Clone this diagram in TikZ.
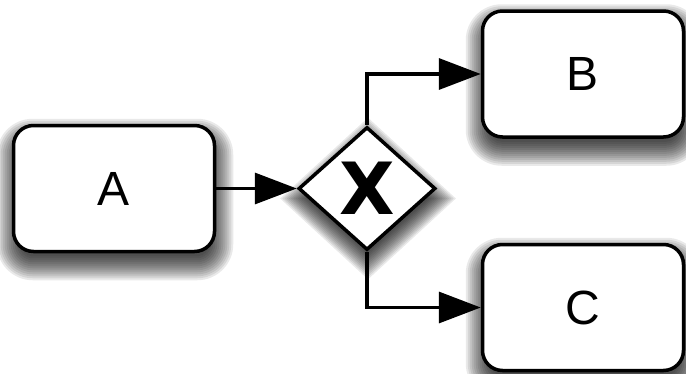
\documentclass[tikz,border=0pt]{standalone}
\usepackage{fontspec}
\setmainfont{Liberation Sans}
\newfontfamily\markfont{DejaVu Sans}
\usetikzlibrary{shapes.geometric,arrows.meta,calc}
\pgfdeclarelayer{background}
\pgfsetlayers{background,main}
\begin{document}
\begin{tikzpicture}[x=1pt,y=-1pt,
  task/.style={draw=black,line width=3.5pt,fill=white,rounded corners=20pt,
      inner sep=0pt,minimum width=201pt,minimum height=126pt,
      font=\fontsize{48}{48}\selectfont},
  gateway/.style={draw=black,line width=3.5pt,fill=white,diamond,
      inner sep=0pt,minimum width=137pt,minimum height=123pt},
  shadowlayer/.style={fill=black,opacity=0.085},
  flow/.style={line width=3.5pt,-{Triangle[length=42pt,width=31pt]}}]
  \useasboundingbox (0,0) rectangle (686,373);
  % tasks and the exclusive gateway
  \node[task] (A) at (114,188.5) {A};
  \node[gateway] (G) at (367,188.5) {};
  \node[font=\markfont\bfseries\fontsize{72}{72}\selectfont,inner sep=0pt] (X) at (G.center) {X};
  \node[task] (B) at (583,74) {B};
  \node[task] (C) at (583,307.5) {C};
  % soft drop shadows, built from stacked translucent outlines
  \begin{pgfonlayer}{background}
    \foreach \e in {-8,-6,...,16}{
      \pgfmathsetmacro\rc{max(20+\e,1)}
      \foreach \n in {A,B,C}{
        \fill[shadowlayer,rounded corners=\rc pt]
          ($(\n.north west)+(-\e+1,-\e+11)$) rectangle ($(\n.south east)+(\e+1,\e+11)$);
      }
      \fill[shadowlayer]
        ($(G.north)+(1,-1.1*\e+10)$) -- ($(G.east)+(1.1*\e+1,10)$) --
        ($(G.south)+(1,1.1*\e+10)$) -- ($(G.west)+(-1.1*\e+1,10)$) -- cycle;
    }
  \end{pgfonlayer}
  % sequence flows
  \draw[flow] (A.east) -- (G.west);
  \draw[flow,line join=miter] (G.north) |- (B.west);
  \draw[flow,line join=miter] (G.south) |- (C.west);
\end{tikzpicture}
\end{document}
